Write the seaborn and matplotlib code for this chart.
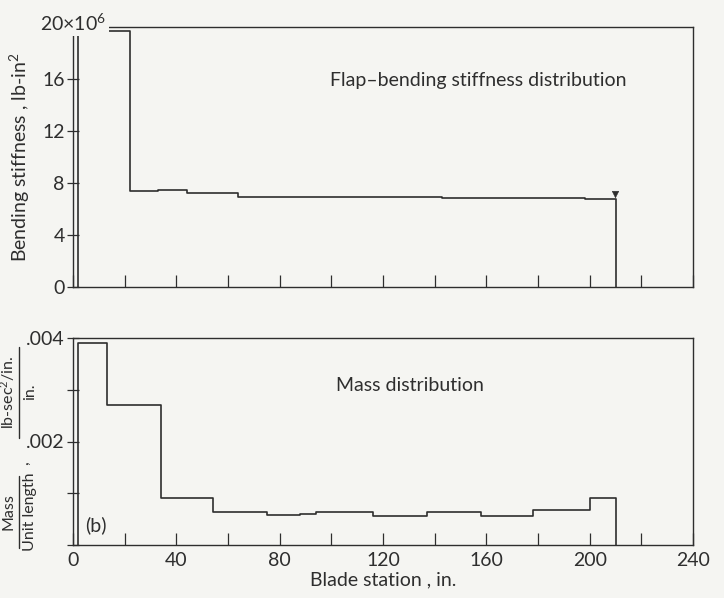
import numpy as np
import pandas as pd
import matplotlib
matplotlib.use("Agg")
import matplotlib.pyplot as plt
from matplotlib.lines import Line2D
from matplotlib.ticker import MultipleLocator, FixedLocator
import seaborn as sns

# Flap-bending stiffness, piecewise constant between blade stations (in.)
stiff_edges = [2, 22, 33, 44, 64, 88, 143, 198, 210]
stiff_values = [19.7, 7.42, 7.48, 7.2, 6.92, 6.9, 6.88, 6.75]   # x10^6 lb-in^2
stiff_marker = (209.7, 7.15)

# Mass per unit length, piecewise constant
mass_edges = [2, 13, 34, 54, 75, 88, 94, 116, 137, 158, 178, 200, 210]
mass_values = [0.0039, 0.0027, 0.0009, 0.00064, 0.00058, 0.0006, 0.00063,
               0.00057, 0.00063, 0.00057, 0.00067, 0.00091]

stiff_yticks = [0, 4, 8, 12, 16, 20]
stiff_yticklabels = ["0", "4", "8", "12", "16", ""]
mass_yticks = [0, 0.001, 0.002, 0.003, 0.004]
mass_yticklabels = ["", "", ".002", "", ".004"]
x_major = [0, 40, 80, 120, 160, 200, 240]

sns.set_theme(style="ticks")
BG = "#f5f5f2"
INK = "#2e2e2e"
plt.rcParams["font.family"] = ["Lato", "DejaVu Sans"]
plt.rcParams["mathtext.fontset"] = "custom"
plt.rcParams["mathtext.rm"] = "Lato"
plt.rcParams["mathtext.it"] = "Lato:italic"
plt.rcParams["text.color"] = INK
plt.rcParams["axes.labelcolor"] = INK
FS = 14


def step_frame(edges, values):
    x = [edges[0]] + list(edges)
    y = [0.0] + list(values) + [0.0]
    return pd.DataFrame({"station": x, "value": y})


fig = plt.figure(figsize=(7.24, 5.98), dpi=100, facecolor=BG)
W, H = 724, 598


def add_axes(left, top, right, bottom):
    return fig.add_axes([left / W, 1 - bottom / H, (right - left) / W, (bottom - top) / H])


def px_text(x, y, s, **kw):
    fig.text(x / W, 1 - y / H, s, ha="center", va="center", color=INK, **kw)


def px_vline(x, y0, y1):
    fig.add_artist(Line2D([x / W, x / W], [1 - y0 / H, 1 - y1 / H],
                          transform=fig.transFigure, color=INK, linewidth=1.0))


ax1 = add_axes(73, 27, 693, 287)
ax2 = add_axes(73, 338, 693, 545)

for ax in (ax1, ax2):
    ax.set_facecolor(BG)
    for s in ax.spines.values():
        s.set_color(INK)
        s.set_linewidth(1.0)
    ax.set_xlim(0, 240)

# --- stiffness panel ---
sns.lineplot(data=step_frame(stiff_edges, stiff_values), x="station", y="value",
             ax=ax1, estimator=None, sort=False, drawstyle="steps-post",
             color=INK, linewidth=1.2)
sns.scatterplot(x=[stiff_marker[0]], y=[stiff_marker[1]], ax=ax1, marker="v",
                s=22, color=INK, edgecolor=INK)
ax1.set_ylim(0, 20)
ax1.xaxis.set_major_locator(MultipleLocator(20))
ax1.tick_params(axis="x", direction="in", length=9, width=0.9, color=INK,
                labelbottom=False)
ax1.yaxis.set_major_locator(FixedLocator(stiff_yticks))
ax1.set_yticklabels(stiff_yticklabels)
ax1.tick_params(axis="y", direction="inout", length=8, width=0.9, color=INK,
                labelsize=FS, labelcolor=INK, pad=2)
ax1.set_xlabel("")
ax1.set_ylabel("Bending stiffness , lb-in$^2$", fontsize=FS)
ax1.yaxis.set_label_coords(-0.066, 0.5)
ax1.text(-0.053, 1.015, r"20$\times$10$^6$", transform=ax1.transAxes,
         fontsize=FS, ha="left", va="center", color=INK,
         bbox=dict(facecolor=BG, edgecolor="none", pad=2))
ax1.text(99.5, 15.9, "Flap\u2013bending stiffness distribution", fontsize=FS,
         ha="left", va="center", color=INK)

# --- mass panel ---
sns.lineplot(data=step_frame(mass_edges, mass_values), x="station", y="value",
             ax=ax2, estimator=None, sort=False, drawstyle="steps-post",
             color=INK, linewidth=1.2)
ax2.set_ylim(0, 0.004)
ax2.xaxis.set_major_locator(FixedLocator(x_major))
ax2.xaxis.set_minor_locator(MultipleLocator(20))
ax2.set_xticklabels([str(v) for v in x_major])
ax2.tick_params(axis="x", which="both", direction="in", length=9, width=0.9,
                color=INK, labelsize=FS, labelcolor=INK, pad=5)
ax2.yaxis.set_major_locator(FixedLocator(mass_yticks))
ax2.set_yticklabels(mass_yticklabels)
ax2.tick_params(axis="y", direction="inout", length=8, width=0.9, color=INK,
                labelsize=FS, labelcolor=INK, pad=2)
ax2.set_xlabel("Blade station , in.", fontsize=FS)
ax2.xaxis.set_label_coords(0.5, -0.125)
ax2.set_ylabel("")
ax2.text(130.5, 0.00309, "Mass distribution", fontsize=FS, ha="center",
         va="center", color=INK)
ax2.text(4.6, 0.00039, "(b)", fontsize=FS, ha="left", va="center", color=INK)

# Stacked-fraction axis label: Mass / Unit length , lb-sec^2/in. / in.
LFS = 11.5
px_text(8, 512, "Mass", fontsize=LFS, rotation=90)
px_vline(18.5, 476, 548)
px_text(30, 512, "Unit length", fontsize=LFS, rotation=90)
px_text(24, 463, ",", fontsize=LFS, rotation=90)
px_text(8, 392, "lb-sec$^2$/in.", fontsize=LFS, rotation=90)
px_vline(18.5, 347, 438)
px_text(30, 392, "in.", fontsize=LFS, rotation=90)

fig.savefig("out.png", dpi=100, facecolor=BG)
